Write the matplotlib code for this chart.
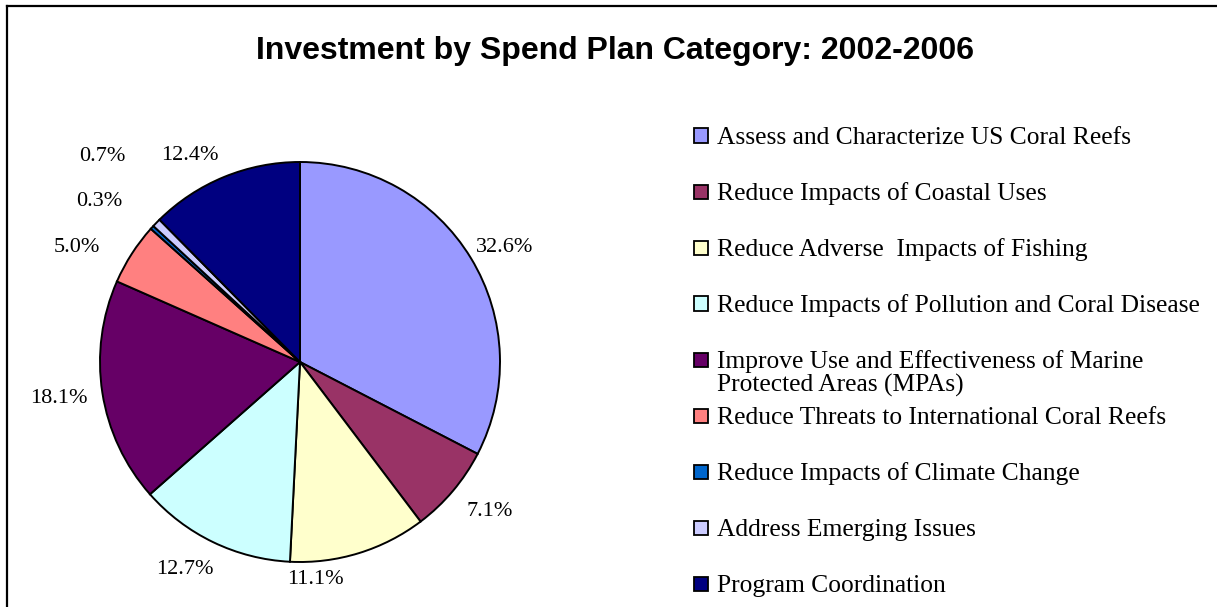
import numpy as np
import matplotlib
matplotlib.use("Agg")
import matplotlib.pyplot as plt
from matplotlib.lines import Line2D
from matplotlib.patches import Rectangle

title = "Investment by Spend Plan Category: 2002-2006"
categories = [
    "Assess and Characterize US Coral Reefs",
    "Reduce Impacts of Coastal Uses",
    "Reduce Adverse  Impacts of Fishing",
    "Reduce Impacts of Pollution and Coral Disease",
    "Improve Use and Effectiveness of Marine\nProtected Areas (MPAs)",
    "Reduce Threats to International Coral Reefs",
    "Reduce Impacts of Climate Change",
    "Address Emerging Issues",
    "Program Coordination",
]
values = [32.6, 7.1, 11.1, 12.7, 18.1, 5.0, 0.3, 0.7, 12.4]
colors = ["#9999FF", "#993366", "#FFFFCC", "#CCFFFF", "#660066",
          "#FF8080", "#0066CC", "#CCCCFF", "#000080"]

# label placement tweaks (radius, angle offset in degrees) - styling only
label_r = [1.18, 1.20, 1.08, 1.18, 1.22, 1.26, 1.29, 1.43, 1.18]
label_dang = [-1.6, 2.2, -13.1, -3.5, -0.6, 5.1, 3.3, -2.3, 5.5]

W, H = 1217, 607
fig = plt.figure(figsize=(W / 100, H / 100), dpi=100)
fig.patch.set_facecolor("white")

# frame lines (top & left)
fig.add_artist(Line2D([7 / W, 1.0], [1 - 6 / H, 1 - 6 / H], color="black", lw=1.6,
                      transform=fig.transFigure))
fig.add_artist(Line2D([7 / W, 7 / W], [1 - 6 / H, 0.0], color="black", lw=1.6,
                      transform=fig.transFigure))

fig.text(615 / W, 1 - 59 / H, title, ha="center", va="baseline",
         fontsize=23, fontweight="bold", family="Liberation Sans")

cx, cy, R = 300, 362, 200
ax = fig.add_axes([(cx - R) / W, (H - cy - R) / H, 2 * R / W, 2 * R / H])
ax.axis("off")

wedges, _ = ax.pie(values, colors=colors, startangle=90, counterclock=False,
                   radius=1.0, center=(0, 0),
                   wedgeprops=dict(edgecolor="black", linewidth=1.4))
ax.set_xlim(-1, 1)
ax.set_ylim(-1, 1)
ax.set_aspect("auto")

for w, v, r, da in zip(wedges, values, label_r, label_dang):
    ang = np.deg2rad((w.theta1 + w.theta2) / 2 + da)
    ax.text(r * np.cos(ang), r * np.sin(ang) - 0.01, f"{v:.1f}%", ha="center", va="center",
            fontsize=16, family="Liberation Serif")

# legend drawn manually
base0, dy, lh = 144, 56, 24
for i, (lab, c) in enumerate(zip(categories, colors)):
    b = base0 + i * dy
    rect = Rectangle((694 / W, 1 - (b - 1.5) / H), 14 / W, 14 / H, facecolor=c,
                     edgecolor="black", lw=1.3, transform=fig.transFigure)
    fig.add_artist(rect)
    for k, line in enumerate(lab.split("\n")):
        fig.text(717 / W, 1 - (b + k * lh) / H, line, ha="left", va="baseline",
                 fontsize=18.4, family="Liberation Serif")

fig.savefig("out.png", dpi=100)
